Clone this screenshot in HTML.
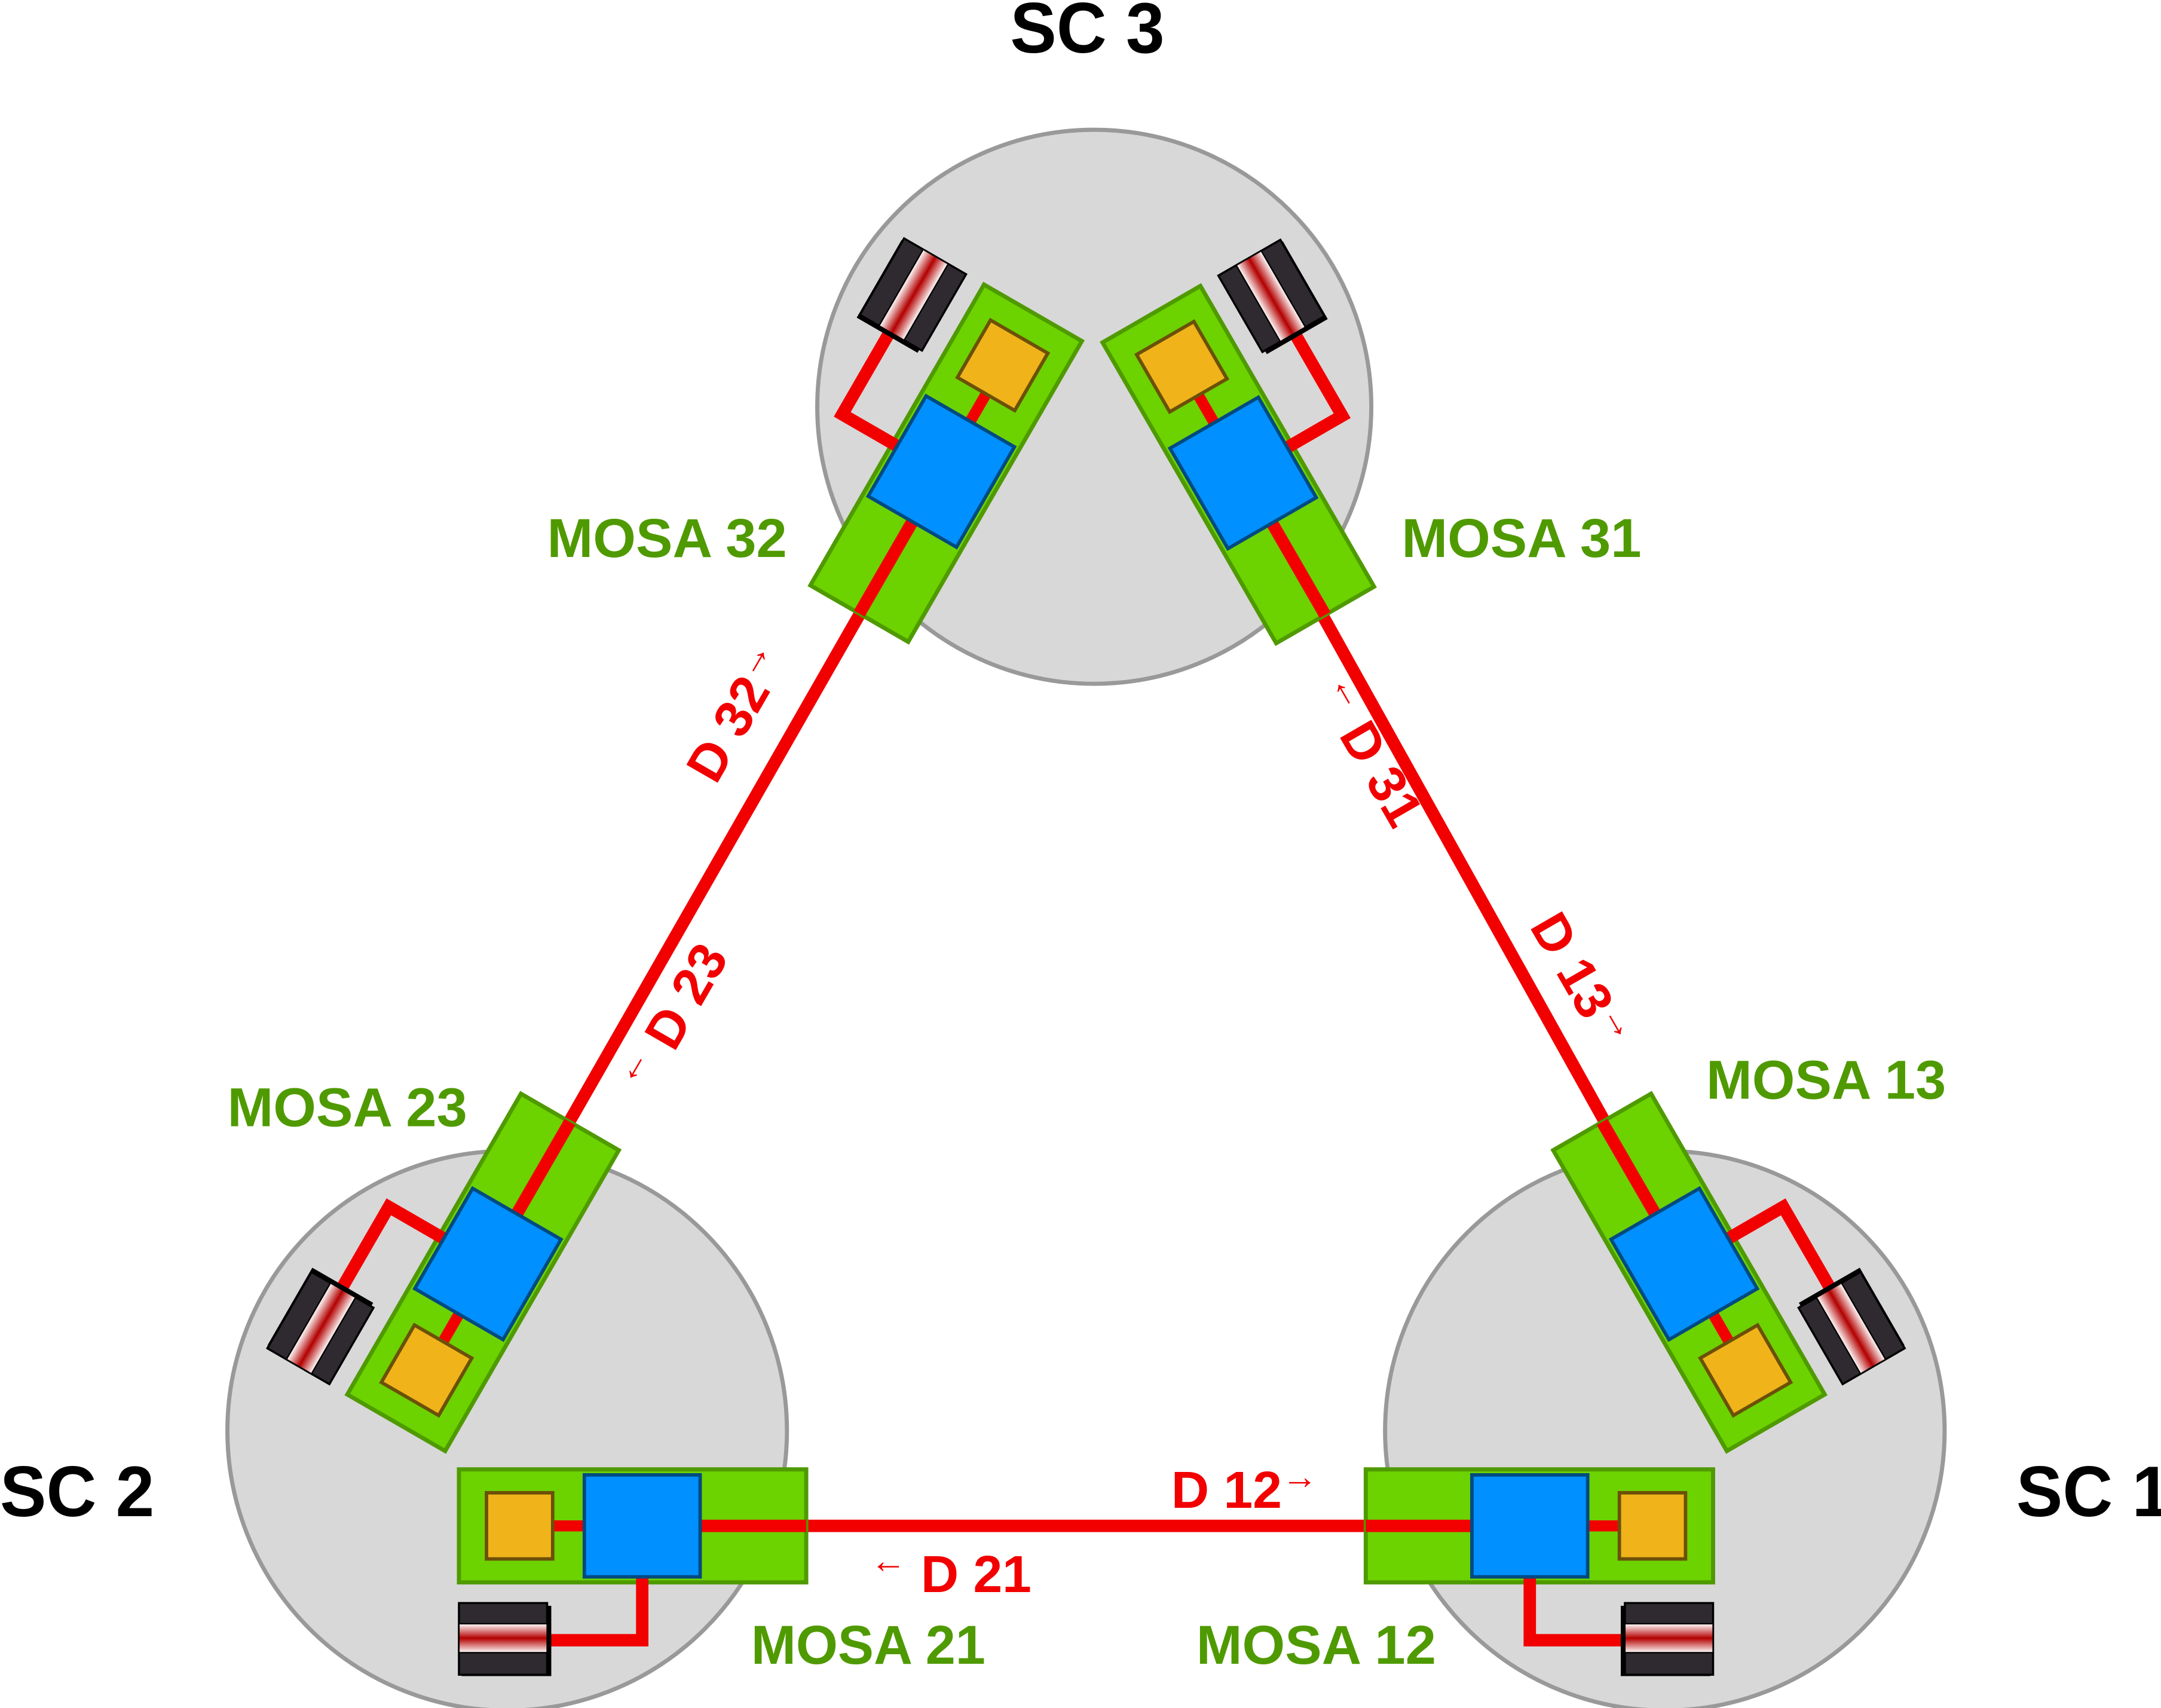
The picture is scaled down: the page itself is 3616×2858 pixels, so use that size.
<!DOCTYPE html>
<html><head><meta charset="utf-8"><style>html,body{margin:0;padding:0;background:#fff}svg{display:block}</style></head>
<body>
<svg width="3616" height="2858" viewBox="0 0 1568 1239" xmlns="http://www.w3.org/2000/svg">
<defs>
<linearGradient id="stripe" x1="0" y1="0" x2="0" y2="1">
<stop offset="0" stop-color="#ffffff"/><stop offset="0.5" stop-color="#b30000"/><stop offset="1" stop-color="#ffffff"/>
</linearGradient>
<g id="mosa">
<rect x="-133" y="-41" width="252" height="82" fill="#6cd200" stroke="#4f9a00" stroke-width="3"/>
<line x1="0" y1="0" x2="119" y2="0" stroke="#f20000" stroke-width="9"/>
<line x1="-66" y1="0" x2="-40" y2="0" stroke="#f20000" stroke-width="8"/>
<rect x="-113" y="-24" width="48" height="48" fill="#f0b41a" stroke="#6b5008" stroke-width="2.5"/>
<polyline points="0,36 0,83 -68,83" fill="none" stroke="#f20000" stroke-width="9"/>
<rect x="-42" y="-37" width="84" height="74" fill="#0090ff" stroke="#004a80" stroke-width="2.5"/>
<rect x="-131" y="58" width="65" height="51" fill="#000"/>
<rect x="-133" y="56" width="64" height="52" fill="#2e2a30" stroke="#000" stroke-width="1.5"/>
<rect x="-133" y="71" width="64" height="21" fill="url(#stripe)" stroke="#000" stroke-width="1"/>
</g>
</defs>
<circle cx="794" cy="295" r="201" fill="#d8d8d8" stroke="#999" stroke-width="3"/>
<circle cx="368" cy="1038" r="203" fill="#d8d8d8" stroke="#999" stroke-width="3"/>
<circle cx="1208" cy="1038" r="203" fill="#d8d8d8" stroke="#999" stroke-width="3"/>
<g stroke="#f20000" stroke-width="9">
<line x1="466" y1="1107" x2="1110" y2="1107"/>
<line x1="354" y1="917" x2="683" y2="342"/>
<line x1="1222" y1="917" x2="902" y2="343"/>
</g>
<use href="#mosa" transform="translate(466,1107)"/>
<use href="#mosa" transform="translate(1110,1107) scale(-1,1)"/>
<use href="#mosa" transform="translate(1222,917) rotate(240)"/>
<use href="#mosa" transform="translate(683,342) rotate(120)"/>
<use href="#mosa" transform="translate(354,917) rotate(120) scale(-1,1)"/>
<use href="#mosa" transform="translate(902,343) rotate(240) scale(-1,1)"/>
<g font-family="Liberation Sans, Arial, sans-serif" font-weight="bold">
<text x="733" y="38" font-size="52" textLength="112" lengthAdjust="spacingAndGlyphs" fill="#000">SC 3</text>
<text x="0" y="1100" font-size="52" textLength="112" lengthAdjust="spacingAndGlyphs" fill="#000">SC 2</text>
<text x="1463" y="1100" font-size="52" textLength="112" lengthAdjust="spacingAndGlyphs" fill="#000">SC 1</text>
<g fill="#4f9a00" font-size="40">
<text x="397" y="404" textLength="174" lengthAdjust="spacingAndGlyphs">MOSA 32</text>
<text x="1017" y="404" textLength="174" lengthAdjust="spacingAndGlyphs">MOSA 31</text>
<text x="165" y="817" textLength="174" lengthAdjust="spacingAndGlyphs">MOSA 23</text>
<text x="1238" y="797" textLength="174" lengthAdjust="spacingAndGlyphs">MOSA 13</text>
<text x="545" y="1207" textLength="170" lengthAdjust="spacingAndGlyphs">MOSA 21</text>
<text x="868" y="1207" textLength="174" lengthAdjust="spacingAndGlyphs">MOSA 12</text>
</g>
<g fill="#f20000" font-size="38" text-anchor="middle">
<text x="903" y="1094">D 12<tspan font-size="26" dy="-14">→</tspan></text>
<text x="690" y="1155"><tspan font-size="26" dy="-14">←</tspan><tspan dy="14"> D 21</tspan></text>
<text transform="translate(546,524) rotate(-60)">D 32<tspan font-size="26" dy="-14">→</tspan></text>
<text transform="translate(500,745) rotate(-60)"><tspan font-size="26" dy="-14">←</tspan><tspan dy="14"> D 23</tspan></text>
<text transform="translate(982,552) rotate(60)"><tspan font-size="26" dy="-14">←</tspan><tspan dy="14"> D 31</tspan></text>
<text transform="translate(1136,718) rotate(60)">D 13<tspan font-size="26" dy="-14">→</tspan></text>
</g>
</g>
</svg>
</body></html>
